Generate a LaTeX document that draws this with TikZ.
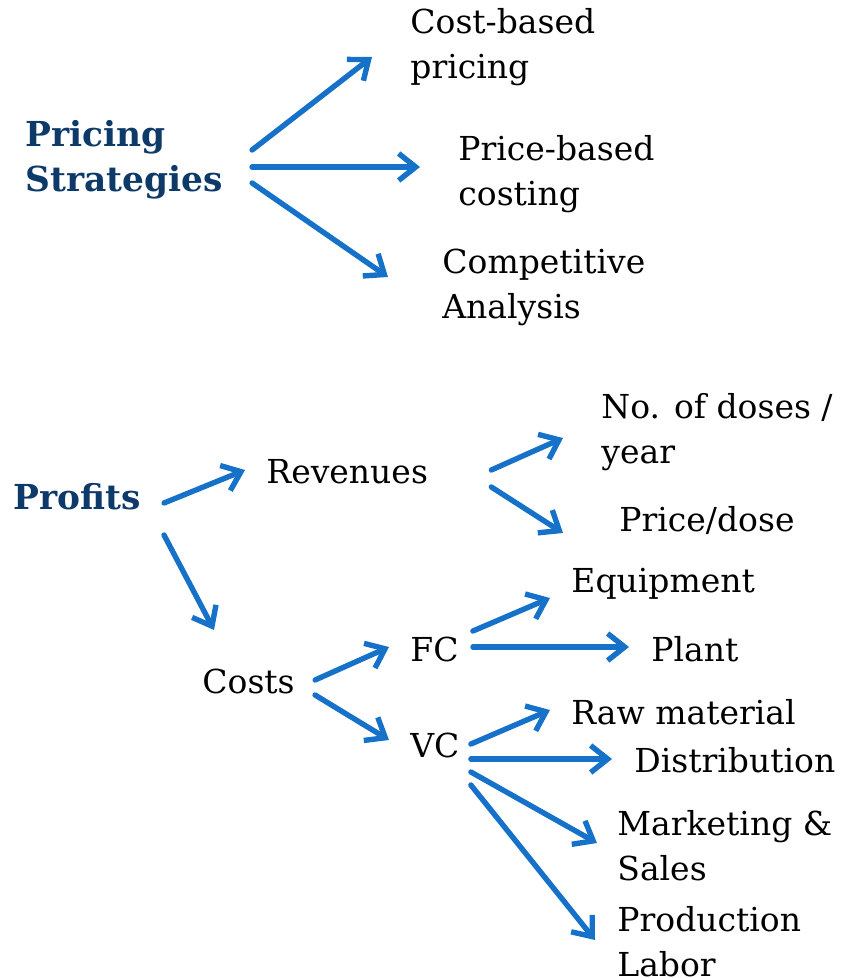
\documentclass[tikz,border=0pt]{standalone}
\usepackage{fontspec}
\setmainfont{DejaVu Serif}
\usepackage{xcolor}
\usepackage{tikz}
\usetikzlibrary{calc,arrows.meta}
\definecolor{arrblue}{HTML}{1672C9}
\definecolor{navy}{HTML}{0E3A6A}
\tikzset{
  lab/.style={anchor=west, inner sep=0pt, align=left,
              font=\fontsize{16.5}{22.5}\selectfont},
  hd/.style={lab, text=navy, font=\fontsize{17.2}{22.5}\selectfont\bfseries},
  arr/.style={draw=arrblue, line width=2.7pt, line cap=round,
              -{Straight Barb[length=8.5pt,width=13.5pt,line width=2.7pt]}}
}
\begin{document}
\begin{tikzpicture}[x=0.5pt,y=-0.5pt]
  \useasboundingbox (0,0) rectangle (849,978);
  \node[hd] (ps) at (25,159.5) {Pricing\\Strategies};
  \node[lab] (cost) at (410,47.5) {Cost-based\\pricing};
  \node[lab] (pbc) at (458,174.5) {Price-based\\costing};
  \node[lab] (comp) at (442,287.5) {Competitive\\Analysis};
  \draw[arr] ($(ps.east)+(29,-9.5)$) -- ($(cost.west)+(-38,9.5)$);
  \draw[arr] ($(ps.east)+(29,7.5)$) -- ($(pbc.west)+(-38,-7.5)$);
  \draw[arr] ($(ps.east)+(29,23.5)$) -- ($(comp.west)+(-54,-10.5)$);

  \node[hd] (prof) at (13,497) {Profits};
  \node[lab] (rev) at (266,472) {Revenues};
  \node[lab] (doses) at (601,432.5) {No. of doses /\\year};
  \node[lab] (pdose) at (619,520) {Price/dose};
  \node[lab] (costs) at (202,681) {Costs};
  \node[lab] (fc) at (410,649) {FC};
  \node[lab] (vc) at (410,745) {VC};
  \node[lab] (equip) at (571,584) {Equipment};
  \node[lab] (plant) at (651,649) {Plant};
  \node[lab] (raw) at (571,712) {Raw material};
  \node[lab] (dist) at (634,760) {Distribution};
  \node[lab] (mkt) at (617,845.5) {Marketing \&\\Sales};
  \node[lab] (prod) at (617,941.5) {Production\\Labor};
  \draw[arr] ($(prof.east)+(23,6)$) -- ($(rev.west)+(-21,-2)$);
  \draw[arr] ($(prof.east)+(23,38)$) -- ($(costs.west)+(12,-51)$);
  \draw[arr] ($(rev.east)+(63,-2)$) -- ($(doses.west)+(-38,5.5)$);
  \draw[arr] ($(rev.east)+(63,15)$) -- ($(pdose.west)+(-56,13)$);
  \draw[arr] ($(costs.east)+(20,-1)$) -- ($(fc.west)+(-21,-2)$);
  \draw[arr] ($(costs.east)+(20,14)$) -- ($(vc.west)+(-21,-5)$);
  \draw[arr] ($(fc.east)+(14,-18)$) -- ($(equip.west)+(-21,14)$);
  \draw[arr] ($(fc.east)+(14,-2)$) -- ($(plant.west)+(-22,-2)$);
  \draw[arr] ($(vc.east)+(11,-1)$) -- ($(raw.west)+(-21,-2)$);
  \draw[arr] ($(vc.east)+(11,14)$) -- ($(dist.west)+(-22,-1)$);
  \draw[arr] ($(vc.east)+(11,27)$) -- ($(mkt.west)+(-20,-2.5)$);
  \draw[arr] ($(vc.east)+(11,40)$) -- ($(prod.west)+(-22,-1.5)$);
\end{tikzpicture}
\end{document}
